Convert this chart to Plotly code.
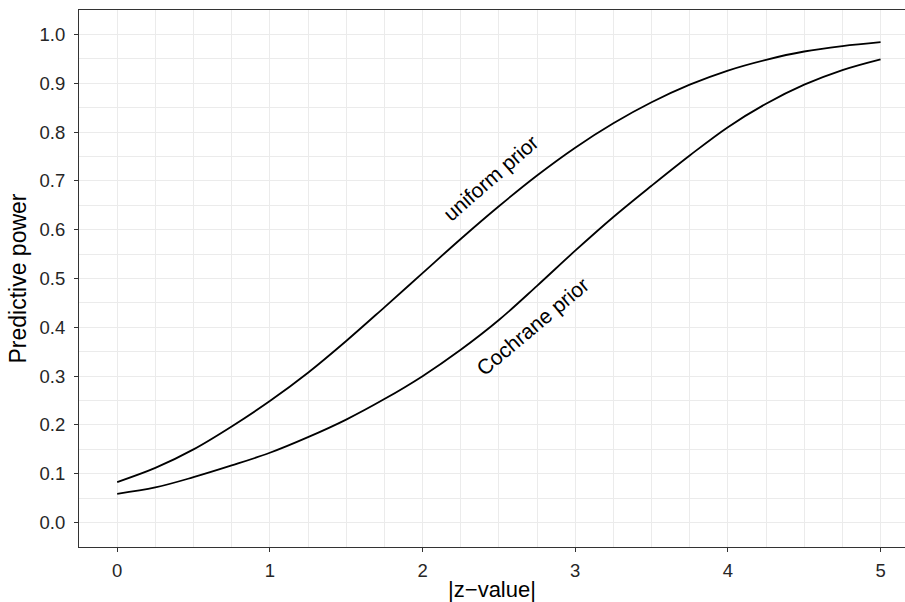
import plotly.graph_objects as go

z_values = [0, 0.25, 0.5, 0.75, 1, 1.25, 1.5, 1.75, 2, 2.25, 2.5, 2.75, 3,
            3.25, 3.5, 3.75, 4, 4.25, 4.5, 4.75, 5]
uniform_prior = [0.083, 0.112, 0.150, 0.197, 0.249, 0.307, 0.372, 0.441, 0.511,
                 0.581, 0.648, 0.711, 0.768, 0.818, 0.861, 0.897, 0.926, 0.948,
                 0.965, 0.976, 0.984]
cochrane_prior = [0.059, 0.072, 0.093, 0.117, 0.143, 0.175, 0.211, 0.253, 0.300,
                  0.354, 0.415, 0.485, 0.557, 0.626, 0.690, 0.752, 0.810, 0.858,
                  0.897, 0.927, 0.949]
x_ticks = [0, 1, 2, 3, 4, 5]
y_ticks = [0.0, 0.1, 0.2, 0.3, 0.4, 0.5, 0.6, 0.7, 0.8, 0.9, 1.0]
y_tick_labels = [f"{v:.1f}" for v in y_ticks]

FONT = "Liberation Sans, Arial, Helvetica, sans-serif"

fig = go.Figure()
for ys in (uniform_prior, cochrane_prior):
    fig.add_trace(go.Scatter(x=z_values, y=ys, mode="lines",
                             line=dict(color="black", width=1.8, shape="spline", smoothing=1.0),
                             showlegend=False, hoverinfo="skip"))

fig.add_annotation(x=2.45, y=0.706, text="uniform prior", textangle=-41, showarrow=False,
                   font=dict(family=FONT, size=21, color="black"))
fig.add_annotation(x=2.72, y=0.402, text="Cochrane prior", textangle=-40, showarrow=False,
                   font=dict(family=FONT, size=21, color="black"))

grid = "#EBEBEB"
fig.update_layout(
    width=905, height=602,
    margin=dict(l=79, r=0, t=10, b=55),
    paper_bgcolor="white", plot_bgcolor="white",
    font=dict(family=FONT),
    xaxis=dict(range=[-0.25, 5.16], tickvals=x_ticks, ticktext=[str(v) for v in x_ticks],
               automargin=False,
               showgrid=True, gridcolor=grid, gridwidth=1.4,
               minor=dict(dtick=0.25, tick0=0, showgrid=True, gridcolor=grid, gridwidth=0.7),
               ticks="outside", ticklen=4, tickwidth=1.1, tickcolor="#333333",
               ticklabelstandoff=3,
               showline=True, linecolor="#333333", linewidth=1.2, mirror=True,
               zeroline=False, tickfont=dict(size=18.5, color="#262626"),
               title=dict(text="|z\u2212value|", font=dict(size=22, color="black"), standoff=4)),
    yaxis=dict(range=[-0.05, 1.05], tickvals=y_ticks, ticktext=y_tick_labels,
               automargin=False,
               showgrid=True, gridcolor=grid, gridwidth=1.4,
               minor=dict(dtick=0.05, tick0=0, showgrid=True, gridcolor=grid, gridwidth=0.7),
               ticks="outside", ticklen=4, tickwidth=1.1, tickcolor="#333333",
               ticklabelstandoff=5,
               showline=True, linecolor="#333333", linewidth=1.2, mirror=False,
               zeroline=False, tickfont=dict(size=18.5, color="#262626"),
               title=dict(text="Predictive power", font=dict(size=23, color="black"), standoff=6)),
)

fig.write_html("out.html", config={"displayModeBar": False},
               post_script="document.body.style.margin='0';document.body.style.overflow='hidden';")
